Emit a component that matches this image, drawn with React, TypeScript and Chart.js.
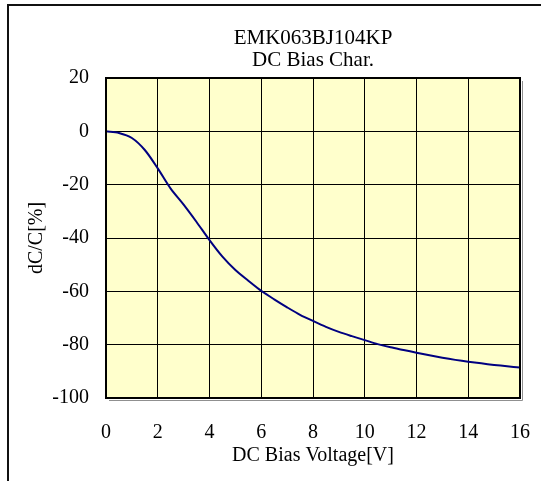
import React, { useEffect, useRef } from "react";
import { Chart, registerables } from "chart.js";

Chart.register(...registerables);

const titleLines = ["EMK063BJ104KP", "DC Bias Char."];
const xAxisTitle = "DC Bias Voltage[V]";
const yAxisTitle = "dC/C[%]";

const voltages = [0, 0.5, 1, 1.5, 2, 2.5, 3, 3.5, 4, 4.5, 5, 5.5, 6, 6.5, 7, 7.5, 8, 8.5, 9, 9.5, 10, 10.5, 11, 11.5, 12, 12.5, 13, 13.5, 14, 14.5, 15, 15.5, 16];
const dcc = [0, -0.6, -2.5, -7, -13.9, -21.5, -27.5, -34, -40.8, -47, -52, -56, -59.8, -63, -66, -68.8, -71.1, -73.3, -75.2, -76.8, -78.3, -79.8, -81, -82, -83, -84, -84.9, -85.7, -86.4, -87, -87.6, -88.1, -88.6];

const xMin = 0, xMax = 16, xStep = 2;
const yMin = -100, yMax = 20, yStep = 20;

const FONT = "'Liberation Serif', 'Times New Roman', serif";

const plotDecor = {
  id: "plotDecor",
  beforeDraw(chart: any) {
    const { ctx, chartArea: a } = chart;
    ctx.save();
    ctx.fillStyle = "#FFFFCC";
    ctx.fillRect(a.left, a.top, a.right - a.left, a.bottom - a.top);
    ctx.restore();
  },
  afterDraw(chart: any) {
    const { ctx, chartArea: a } = chart;
    ctx.save();
    ctx.strokeStyle = "#909090";
    ctx.lineWidth = 1;
    ctx.beginPath();
    ctx.moveTo(a.right + 2.5, a.top + 3);
    ctx.lineTo(a.right + 2.5, a.bottom + 2.5);
    ctx.lineTo(a.left + 3, a.bottom + 2.5);
    ctx.stroke();
    ctx.strokeStyle = "#000";
    ctx.lineWidth = 2;
    ctx.strokeRect(a.left, a.top, a.right - a.left, a.bottom - a.top);
    ctx.restore();
  },
};

export default function App() {
  const ref = useRef<HTMLCanvasElement>(null);
  useEffect(() => {
    if (!ref.current) return;
    const chart = new Chart(ref.current, {
      type: "line",
      data: {
        datasets: [
          {
            data: voltages.map((v, i) => ({ x: v, y: dcc[i] })),
            borderColor: "#000080",
            borderWidth: 2,
            pointRadius: 0,
            tension: 0.3,
            fill: false,
          },
        ],
      },
      options: {
        animation: false,
        responsive: false,
        devicePixelRatio: 1,
        layout: { padding: { left: 23, right: 21, top: 0, bottom: 0 } },
        plugins: {
          legend: { display: false },
          tooltip: { enabled: false },
          title: {
            display: true,
            fullSize: false,
            text: titleLines,
            color: "#000",
            font: { family: FONT, size: 21, weight: "normal", lineHeight: 22 / 21 },
            padding: { top: 27, bottom: 7 },
          },
        },
        scales: {
          x: {
            type: "linear",
            min: xMin,
            max: xMax,
            afterFit(scale: any) {
              scale.height = 83;
              scale.paddingLeft = 0;
              scale.paddingRight = 0;
            },
            ticks: {
              stepSize: xStep,
              color: "#000",
              padding: 23,
              font: { family: FONT, size: 20 },
              maxRotation: 0,
            },
            grid: { color: "#000", lineWidth: 1, drawTicks: false },
            border: { display: false },
            title: {
              display: true,
              text: xAxisTitle,
              color: "#000",
              font: { family: FONT, size: 20, weight: "normal", lineHeight: 1.0 },
              padding: { top: 0, bottom: 15 },
            },
          },
          y: {
            type: "linear",
            min: yMin,
            max: yMax,
            afterFit(scale: any) {
              scale.width = 83;
            },
            ticks: {
              stepSize: yStep,
              color: "#000",
              padding: 17,
              font: { family: FONT, size: 20 },
            },
            grid: { color: "#000", lineWidth: 1, drawTicks: false },
            border: { display: false },
            title: {
              display: true,
              text: yAxisTitle,
              color: "#000",
              font: { family: FONT, size: 20, weight: "normal", lineHeight: 1.0 },
              padding: { top: 4, bottom: 0 },
            },
          },
        },
      },
      plugins: [plotDecor],
    });
    return () => chart.destroy();
  }, []);

  return (
    <div style={{ position: "fixed", left: 0, top: 0, width: 541, height: 481, background: "#fff", overflow: "hidden" }}>
      <div
        style={{
          position: "absolute",
          left: 7,
          top: 4,
          width: 700,
          height: 700,
          borderTop: "2px solid #111",
          borderLeft: "2px solid #111",
        }}
      />
      <canvas ref={ref} width={541} height={481} style={{ position: "absolute", left: 0, top: 0, width: 541, height: 481 }} />
    </div>
  );
}
